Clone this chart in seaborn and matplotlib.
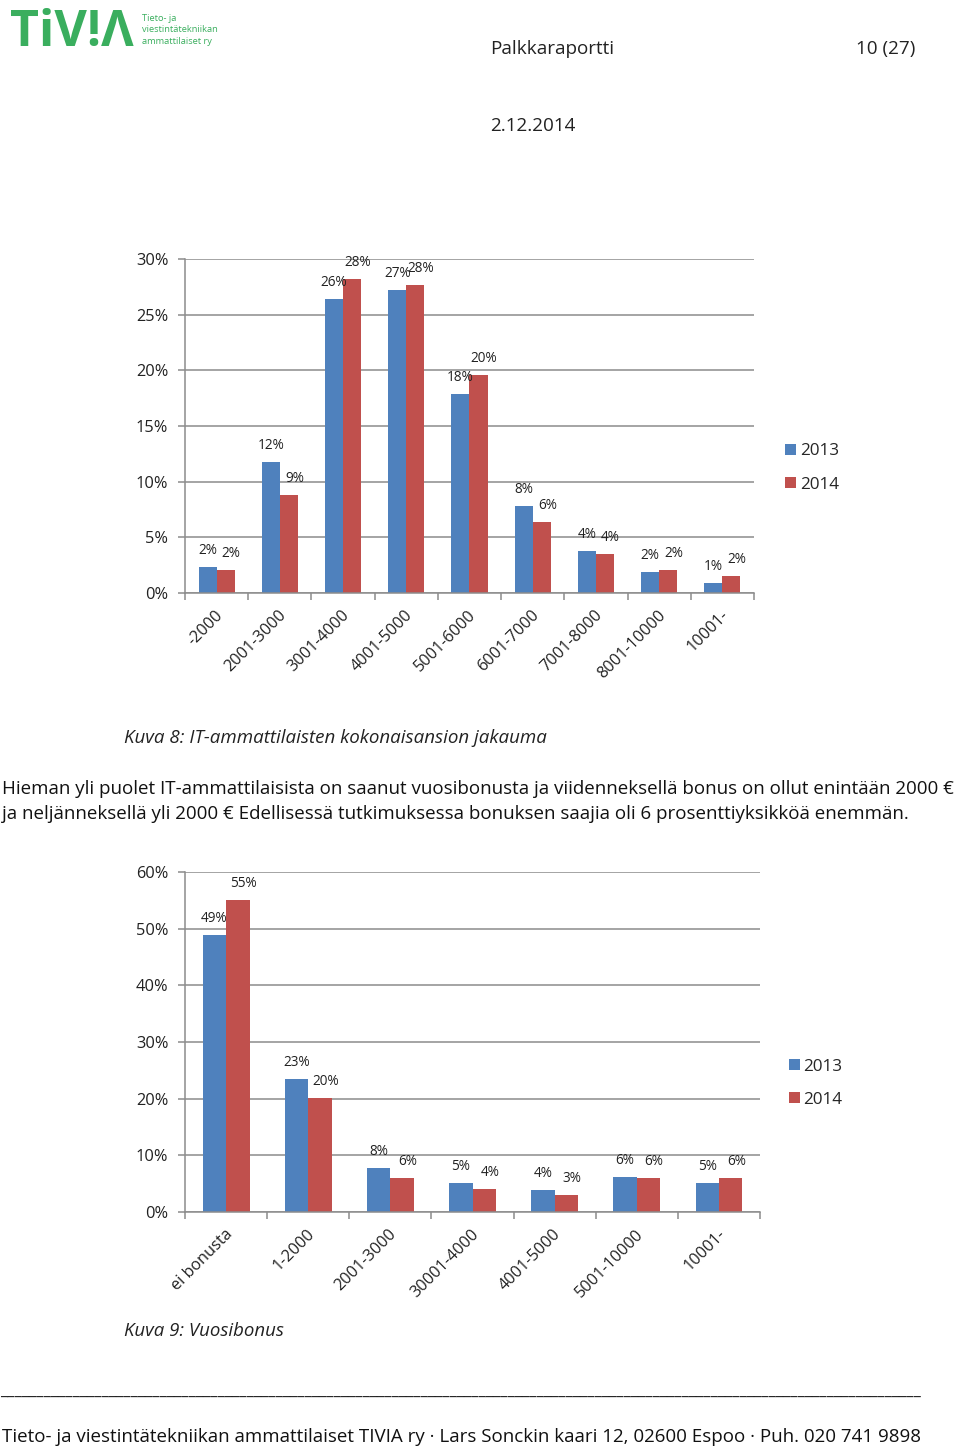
import numpy as np
import pandas as pd
import seaborn as sns
import matplotlib.pyplot as plt
from matplotlib.ticker import FixedLocator, FuncFormatter
import matplotlib.transforms as mtransforms

# chart data (percent)
years = ['2013', '2014']

salary_classes = ['-2000', '2001-3000', '3001-4000', '4001-5000', '5001-6000',
                  '6001-7000', '7001-8000', '8001-10000', '10001-']
salary_2013 = [2.3, 11.8, 26.4, 27.2, 17.9, 7.8, 3.8, 1.9, 0.9]
salary_2014 = [2.1, 8.8, 28.2, 27.7, 19.6, 6.4, 3.5, 2.1, 1.5]

bonus_classes = ['ei bonusta', '1-2000', '2001-3000', '30001-4000', '4001-5000',
                 '5001-10000', '10001-']
bonus_2013 = [48.8, 23.4, 7.7, 5.1, 3.9, 6.1, 5.1]
bonus_2014 = [55.1, 20.1, 6.0, 4.0, 3.0, 6.0, 6.0]

blue = '#4F81BD'
red = '#C0504D'
green = '#3aae5e'
grid_gray = '#8c8c8c'

sns.set_theme(style='white')
plt.rcParams['font.family'] = ['Open Sans', 'DejaVu Sans']


def make_df(classes, v13, v14):
    df = pd.DataFrame({'Luokka': classes, years[0]: v13, years[1]: v14})
    return df.melt(id_vars='Luokka', var_name='Vuosi', value_name='Osuus')


def draw_chart(ax, df, ymax, ystep, legend_x, legend_y):
    sns.barplot(data=df, x='Luokka', y='Osuus', hue='Vuosi', palette=[blue, red],
                saturation=1, width=0.571, linewidth=0, ax=ax)
    n = df['Luokka'].nunique()
    ax.set_xlim(-0.5, n - 0.5)
    ax.set_ylim(0, ymax)
    ax.set_yticks(np.arange(0, ymax + 0.1, ystep))
    ax.yaxis.set_major_formatter(FuncFormatter(lambda v, p: f'{v:.0f}%'))
    ax.yaxis.grid(True, color=grid_gray, linewidth=1.1)
    ax.set_axisbelow(True)
    ax.set_xlabel('')
    ax.set_ylabel('')
    for s in ['top', 'right']:
        ax.spines[s].set_visible(False)
    for s in ['left', 'bottom']:
        ax.spines[s].set_color(grid_gray)
        ax.spines[s].set_linewidth(1.1)
    ax.tick_params(axis='y', left=True, length=5, color=grid_gray, width=1.1,
                   labelsize=11.8, pad=7, labelcolor='#222222')
    ax.tick_params(axis='x', which='major', length=0, bottom=False)
    ax.xaxis.set_minor_locator(FixedLocator(np.arange(-0.5, n, 1.0)))
    ax.tick_params(axis='x', which='minor', bottom=True, length=5, color=grid_gray, width=1.1)
    labels = ax.get_xticklabels()
    offset = mtransforms.ScaledTranslation(4 / 100, -15 / 100, ax.figure.dpi_scale_trans)
    for lab in labels:
        lab.set_rotation(45)
        lab.set_ha('right')
        lab.set_va('center')
        lab.set_rotation_mode('anchor')
        lab.set_fontsize(11.7)
        lab.set_color('#222222')
        lab.set_transform(lab.get_transform() + offset)

    # data labels
    for k, cont in enumerate(ax.containers):
        dx = 0 if k == 0 else 4
        for bar in cont:
            h = bar.get_height()
            ax.annotate(f'{h:.0f}%', (bar.get_x() + bar.get_width() / 2, h),
                        xytext=(dx, 6.5), textcoords='offset points',
                        ha='center', va='bottom', fontsize=9.8, color='#222222')

    handles, labs = ax.get_legend_handles_labels()
    ax.legend(handles, labs, loc='center left', bbox_to_anchor=(legend_x, legend_y),
              frameon=False, fontsize=12.3, handlelength=0.65, handleheight=0.65,
              handletextpad=0.2, labelspacing=1.0, borderaxespad=0)


fig = plt.figure(figsize=(9.6, 14.49), dpi=100)

ax1 = fig.add_axes([0.1927, 0.5908, 0.5927, 0.2305])
draw_chart(ax1, make_df(salary_classes, salary_2013, salary_2014), 30, 5, 1.043, 0.374)

ax2 = fig.add_axes([0.1927, 0.1636, 0.599, 0.2346])
draw_chart(ax2, make_df(bonus_classes, bonus_2013, bonus_2014), 60, 10, 1.038, 0.379)

# page texts
fig.text(10 / 960, 1 - 33 / 1449, 'TiV!Λ', fontsize=36, fontweight='bold', color=green,
         ha='left', va='center')
fig.text(142 / 960, 1 - 30 / 1449, 'Tieto- ja\nviestintätekniikan\nammattilaiset ry',
         fontsize=6.7, color=green, ha='left', va='center', linespacing=1.3)
fig.text(490 / 960, 1 - 49 / 1449, 'Palkkaraportti', fontsize=13.6, ha='left', va='center',
         color='#222222')
fig.text(915 / 960, 1 - 49 / 1449, '10 (27)', fontsize=13.6, ha='right', va='center',
         color='#222222')
fig.text(490 / 960, 1 - 126 / 1449, '2.12.2014', fontsize=13.6, ha='left', va='center',
         color='#222222')

fig.text(124 / 960, 1 - 738 / 1449, 'Kuva 8: IT-ammattilaisten kokonaisansion jakauma',
         fontsize=13.5, style='italic', ha='left', va='center', color='#222222')
fig.text(2 / 960, 1 - 789 / 1449,
         'Hieman yli puolet IT-ammattilaisista on saanut vuosibonusta ja viidenneksellä '
         'bonus on ollut enintään 2000 €',
         fontsize=13.5, ha='left', va='center', color='#111111')
fig.text(2 / 960, 1 - 814 / 1449,
         'ja neljänneksellä yli 2000 € Edellisessä tutkimuksessa bonuksen saajia oli 6 '
         'prosenttiyksikköä enemmän.',
         fontsize=13.5, ha='left', va='center', color='#111111')
fig.text(124 / 960, 1 - 1331 / 1449, 'Kuva 9: Vuosibonus', fontsize=13.4, style='italic',
         ha='left', va='center', color='#222222')

fig.text(0, 1 - 1396 / 1449, '_' * 127, fontsize=12, ha='left', va='baseline',
         color='#222222')
fig.text(2 / 960, 1 - 1437 / 1449,
         'Tieto- ja viestintätekniikan ammattilaiset TIVIA ry · Lars Sonckin kaari 12, '
         '02600 Espoo · Puh. 020 741 9898',
         fontsize=13.5, ha='left', va='center', color='#111111')

fig.savefig('out.png', dpi=100)
